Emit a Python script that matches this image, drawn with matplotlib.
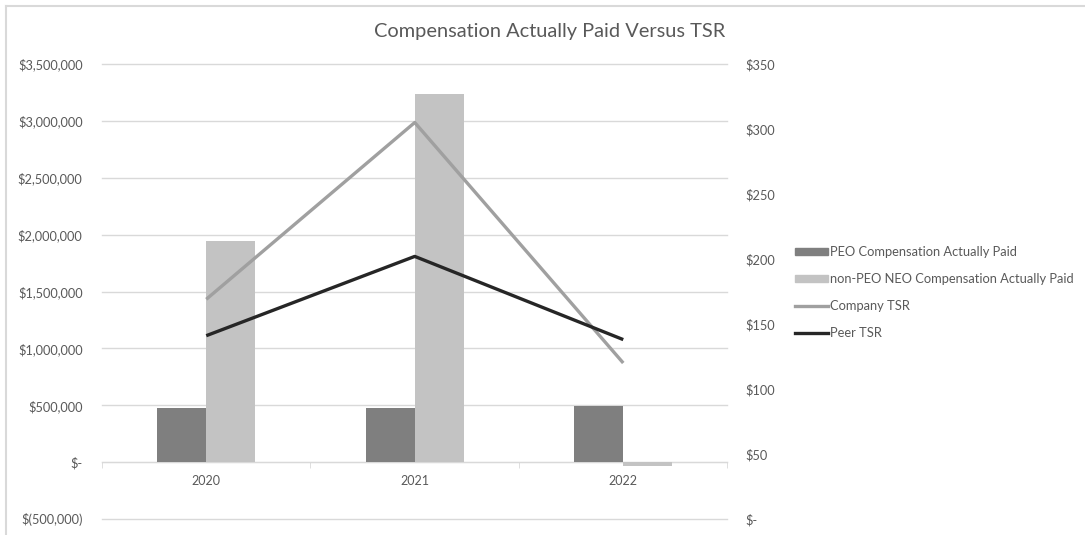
"""
Compensation Actually Paid versus TSR -- clustered bars (left axis) with
two TSR lines on a secondary axis.

Run: python plot.py  -> out.png
"""

import matplotlib
matplotlib.use("Agg")
import matplotlib.pyplot as plt
from matplotlib.lines import Line2D
from matplotlib.patches import Patch
from matplotlib.ticker import FixedLocator, FuncFormatter

YEARS = ["2020", "2021", "2022"]
PEO_CAP = [478000, 478000, 492000]
NON_PEO_CAP = [1940000, 3235000, -30000]
COMPANY_TSR = [169, 305, 120]
PEER_TSR = [141, 202, 138]

LEFT_TICKS = [-500000, 0, 500000, 1000000, 1500000, 2000000, 2500000, 3000000, 3500000]
RIGHT_TICKS = [0, 50, 100, 150, 200, 250, 300, 350]

W, H = 1085, 535
TEXT = "#595959"
GRID = "#d9d9d9"
PEO_COLOR = "#7f7f7f"
NON_PEO_COLOR = "#c3c3c3"
COMPANY_COLOR = "#a0a0a0"
PEER_COLOR = "#262626"

plt.rcParams["font.family"] = ["Lato", "DejaVu Sans"]


def money(v, _pos=None):
    if v == 0:
        return "$-"
    if v < 0:
        return f"$({abs(v):,.0f})"
    return f"${v:,.0f}"


def main():
    fig = plt.figure(figsize=(W / 100, H / 100), dpi=100)
    ax = fig.add_axes([102 / W, (H - 519) / H, (727.5 - 102) / W, (519 - 64) / H])
    ax2 = ax.twinx()

    x = list(range(len(YEARS)))
    bw = 0.235
    ax.bar([i - bw / 2 for i in x], PEO_CAP, width=bw, color=PEO_COLOR, zorder=2)
    ax.bar([i + bw / 2 for i in x], NON_PEO_CAP, width=bw, color=NON_PEO_COLOR, zorder=2)

    ax2.plot(x, COMPANY_TSR, color=COMPANY_COLOR, lw=2.4, solid_capstyle="butt", zorder=3)
    ax2.plot(x, PEER_TSR, color=PEER_COLOR, lw=2.4, solid_capstyle="butt", zorder=4)

    ax.set_xlim(-0.5, len(YEARS) - 0.5)
    ax.set_ylim(LEFT_TICKS[0], LEFT_TICKS[-1])
    ax2.set_ylim(RIGHT_TICKS[0], RIGHT_TICKS[-1])

    ax.yaxis.set_major_locator(FixedLocator(LEFT_TICKS))
    ax.yaxis.set_major_formatter(FuncFormatter(money))
    ax2.yaxis.set_major_locator(FixedLocator(RIGHT_TICKS))
    ax2.yaxis.set_major_formatter(FuncFormatter(money))

    ax.grid(axis="y", color=GRID, lw=1, zorder=0)
    ax.set_axisbelow(True)
    for gl in ax.get_ygridlines():
        gl.set_clip_on(False)

    for a in (ax, ax2):
        for s in ("top", "left", "right"):
            a.spines[s].set_visible(False)
    ax2.spines["bottom"].set_visible(False)
    ax.spines["bottom"].set_position(("data", 0))
    ax.spines["bottom"].set_color(GRID)
    ax.spines["bottom"].set_zorder(1)

    ax.set_xticks(x)
    ax.set_xticklabels(YEARS)
    ax.set_xticks([i - 0.5 for i in range(len(YEARS) + 1)], minor=True)
    ax.tick_params(axis="x", which="major", length=0, pad=9, labelsize=9, labelcolor=TEXT)
    ax.tick_params(axis="x", which="minor", length=4, color=GRID, direction="out")
    ax.tick_params(axis="y", length=0, pad=14, labelsize=9.2, labelcolor=TEXT)
    ax2.tick_params(axis="y", length=0, pad=13, labelsize=9.2, labelcolor=TEXT)

    fig.text(549.5 / W, (H - 32) / H, "Compensation Actually Paid Versus TSR",
             ha="center", va="center", fontsize=14.4, color=TEXT)

    handles = [
        Patch(color=PEO_COLOR),
        Patch(color=NON_PEO_COLOR),
        Line2D([], [], color=COMPANY_COLOR, lw=2.4),
        Line2D([], [], color=PEER_COLOR, lw=2.4),
    ]
    labels = ["PEO Compensation Actually Paid", "non-PEO NEO Compensation Actually Paid",
              "Company TSR", "Peer TSR"]
    fig.legend(handles, labels, loc="upper left", bbox_to_anchor=(795.5 / W, (H - 246) / H),
               frameon=False, fontsize=9.3, labelcolor=TEXT, borderpad=0, borderaxespad=0,
               handlelength=2.5, handleheight=0.4, handletextpad=0.2, labelspacing=1.17)

    # light chart-area border (top and left edges are in frame)
    fig.add_artist(Line2D([6 / W, 1], [(H - 6) / H, (H - 6) / H], color=GRID, lw=1.5))
    fig.add_artist(Line2D([6 / W, 6 / W], [0, (H - 6) / H], color=GRID, lw=1.5))

    fig.savefig("out.png", dpi=100)
    plt.close(fig)


if __name__ == "__main__":
    main()
